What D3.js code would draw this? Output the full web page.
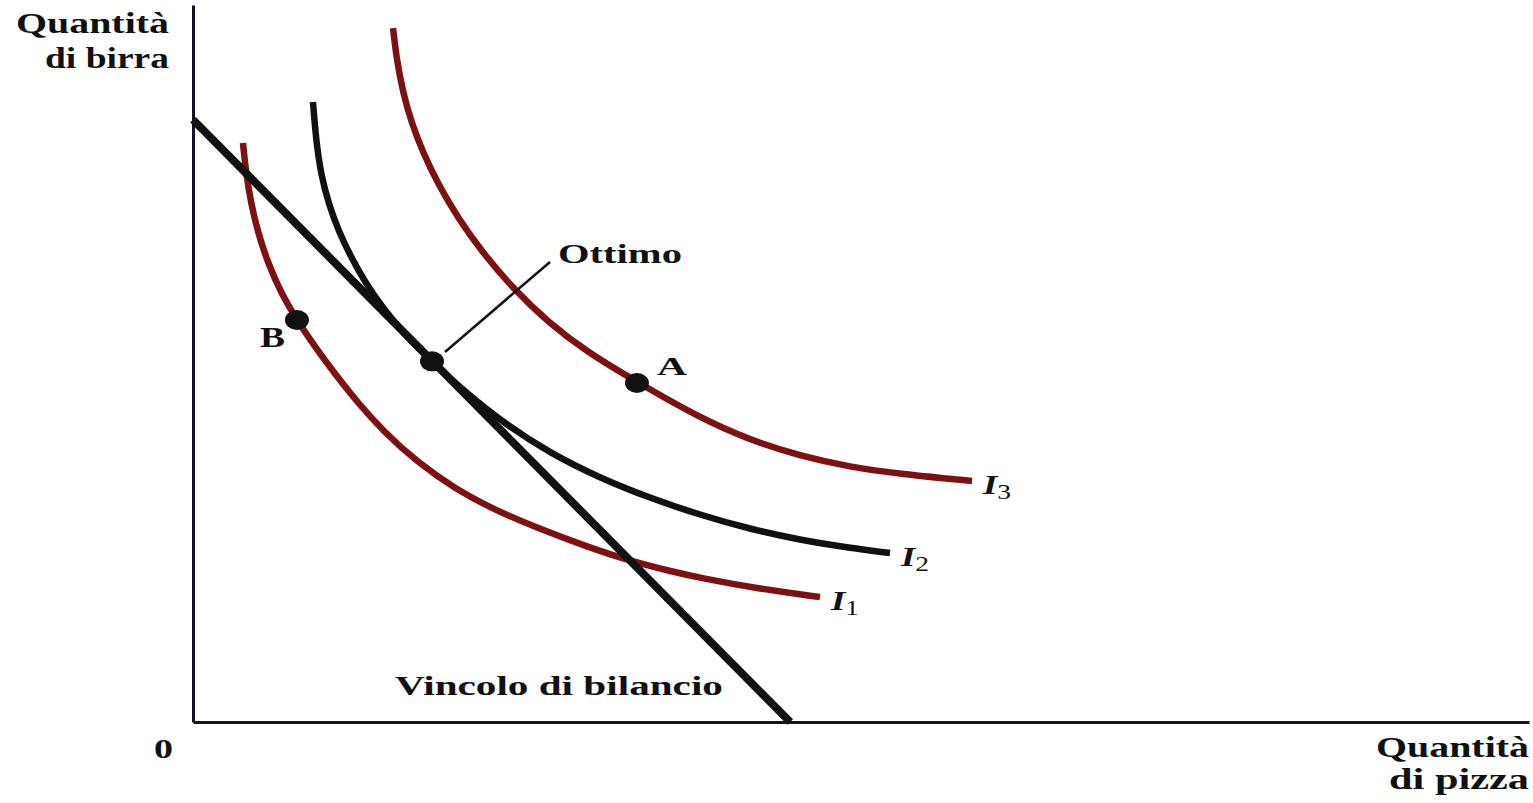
<!DOCTYPE html>
<html lang="it">
<head>
<meta charset="utf-8">
<title>Scelta ottima del consumatore</title>
<script src="https://cdn.jsdelivr.net/npm/d3@7/dist/d3.min.js"></script>
<style>
  html, body { margin: 0; padding: 0; background: #fff; }
  svg { display: block; }
  text { font-family: "Liberation Serif", "Times New Roman", serif; fill: #111; }
</style>
</head>
<body>
<svg id="chart" width="1533" height="803"></svg>
<script>
// Quantità di pizza (x) e quantità di birra (y), in unità arbitrarie 0–100
const budgetLine = [[0, 84.0], [44.7, 0]];

const curveI1 = [
  [3.74, 80.75], [3.97, 76.57], [4.34, 72.38], [4.87, 68.20], [5.61, 64.02],
  [6.59, 59.83], [7.78, 56.07], [9.13, 52.30], [10.63, 48.54], [12.35, 44.49],
  [14.30, 40.45], [16.69, 36.40], [19.61, 32.50], [22.75, 29.43], [25.97, 26.92],
  [29.34, 24.55], [32.71, 22.45], [35.70, 21.06], [37.95, 20.08], [42.44, 18.55],
  [46.93, 17.43]
];

const curveI2 = [
  [8.98, 86.47], [9.21, 81.17], [9.58, 76.29], [10.18, 72.11], [10.93, 68.34],
  [11.83, 64.85], [12.87, 61.37], [14.15, 57.88], [15.87, 53.97], [17.89, 50.21],
  [20.36, 46.03], [23.35, 41.56], [26.72, 37.52], [30.46, 34.03], [34.21, 31.24],
  [37.95, 28.87], [41.69, 26.92], [45.43, 25.38], [49.18, 24.27], [52.17, 23.57]
];

const curveI3 = [
  [14.97, 96.79], [15.25, 92.33], [15.71, 87.87], [16.34, 83.68], [17.19, 79.50],
  [18.38, 74.90], [19.84, 70.29], [21.64, 65.55], [24.06, 60.25], [26.57, 55.79],
  [29.49, 51.60], [33.23, 47.42], [37.95, 42.40], [41.69, 39.33], [45.43, 37.10],
  [49.18, 35.56], [52.92, 34.59], [58.31, 33.61]
];

const curveNames = ["1", "2", "3"];
const curveColors = ["#7d1111", "#111111", "#7d1111"];

// Punti evidenziati sul grafico
const pointNames = ["B", "Ottimo", "A"];
const pointValues = [[7.78, 56.07], [17.89, 50.30], [33.23, 47.28]];

// Linea di richiamo dell'etichetta "Ottimo"
const leaderLine = [[18.86, 51.6], [26.72, 64.16]];

const svg = d3.select("#chart");

const x = d3.scaleLinear().domain([0, 100]).range([193, 1529]);
const y = d3.scaleLinear().domain([0, 100]).range([722, 5]);

const line = d3.line()
  .x(d => x(d[0]))
  .y(d => y(d[1]))
  .curve(d3.curveBasis);

// Testo in grassetto allargato orizzontalmente fino alla larghezza voluta
function wideText(str, px, py, size, width, opts = {}) {
  const t = svg.append("text")
    .attr("font-size", size)
    .attr("font-weight", opts.weight || "bold")
    .attr("font-style", opts.style || "normal")
    .text(str);
  const w = t.node().getComputedTextLength();
  t.attr("transform", `translate(${px},${py}) scale(${width / w},1)`);
  return t;
}

// Assi senza tacche
const xAxis = svg.append("g")
  .attr("transform", `translate(0,${y(0)})`)
  .call(d3.axisBottom(x).tickValues([]).tickSizeOuter(0));
const yAxis = svg.append("g")
  .attr("transform", `translate(${x(0)},0)`)
  .call(d3.axisLeft(y).tickValues([]).tickSizeOuter(0));
[xAxis, yAxis].forEach(g => g.select(".domain")
  .attr("stroke", "#141420").attr("stroke-width", 3));

// Curve di indifferenza
const curves = [curveI1, curveI2, curveI3];
svg.selectAll("path.indiff")
  .data(curves)
  .join("path")
  .attr("class", "indiff")
  .attr("d", line)
  .attr("fill", "none")
  .attr("stroke", (d, i) => curveColors[i])
  .attr("stroke-width", 6.5)
  .attr("stroke-linecap", "butt");

// Vincolo di bilancio
svg.append("path")
  .attr("d", d3.line().x(d => x(d[0])).y(d => y(d[1]))(budgetLine))
  .attr("fill", "none")
  .attr("stroke", "#111")
  .attr("stroke-width", 8)
  .attr("stroke-linecap", "butt");

// Linea di richiamo
svg.append("path")
  .attr("d", d3.line().x(d => x(d[0])).y(d => y(d[1]))(leaderLine))
  .attr("stroke", "#111")
  .attr("stroke-width", 2.5);

// Punti
svg.selectAll("ellipse.pt")
  .data(pointValues)
  .join("ellipse")
  .attr("class", "pt")
  .attr("cx", d => x(d[0]))
  .attr("cy", d => y(d[1]))
  .attr("rx", 12)
  .attr("ry", 10)
  .attr("fill", "#111");

// Etichette delle curve: I con pedice
curves.forEach((c, i) => {
  const end = c[c.length - 1];
  const t = svg.append("text")
    .attr("font-size", 28)
    .attr("font-weight", "bold");
  t.append("tspan").attr("font-style", "italic").text("I");
  t.append("tspan")
    .attr("dy", 5)
    .attr("font-size", 21)
    .attr("font-weight", "normal")
    .text(curveNames[i]);
  const w = t.node().getComputedTextLength();
  t.attr("transform",
    `translate(${x(end[0]) + 11},${y(end[1]) + 13}) scale(${28 / w},1)`);
});

// Etichette dei punti A e B
wideText(pointNames[0], x(pointValues[0][0]) - 37, y(pointValues[0][1]) + 27, 30, 25);
wideText(pointNames[2], x(pointValues[2][0]) + 20, y(pointValues[2][1]) - 8, 25, 30);

// Etichetta "Ottimo"
wideText(pointNames[1], x(leaderLine[1][0]) + 8, y(leaderLine[1][1]) + 1, 27, 124);

// Etichetta del vincolo di bilancio
wideText("Vincolo di bilancio", 395, y(0) - 27, 27, 328);

// Titoli degli assi
wideText("Quantità", 16, 33, 30, 153);
wideText("di birra", 45, 68, 30, 124);
wideText("Quantità", 1376, 757, 30, 153);
wideText("di pizza", 1389, 789, 30, 140);

// Origine
wideText("0", x(0) - 39, y(0) + 36, 27, 19);
</script>
</body>
</html>
